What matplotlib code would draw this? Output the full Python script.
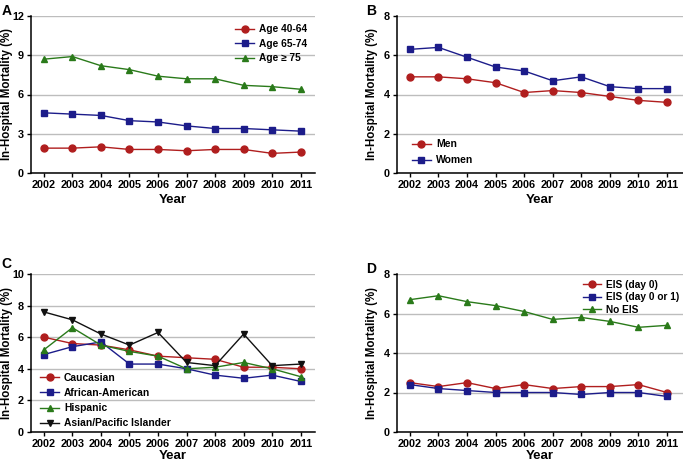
import numpy as np
import matplotlib
matplotlib.use('Agg')
import matplotlib.pyplot as plt

plt.rcParams['font.family'] = ['Liberation Sans', 'DejaVu Sans']
plt.rcParams['font.weight'] = 'bold'

years = list(range(2002, 2012))

# Panel A - theo tuổi
age_40_64 = [1.9, 1.9, 2.0, 1.8, 1.8, 1.7, 1.8, 1.8, 1.5, 1.6]
age_65_74 = [4.6, 4.5, 4.4, 4.0, 3.9, 3.6, 3.4, 3.4, 3.3, 3.2]
age_75 = [8.7, 8.9, 8.2, 7.9, 7.4, 7.2, 7.2, 6.7, 6.6, 6.4]

# Panel B - theo giới
men = [4.9, 4.9, 4.8, 4.6, 4.1, 4.2, 4.1, 3.9, 3.7, 3.6]
women = [6.3, 6.4, 5.9, 5.4, 5.2, 4.7, 4.9, 4.4, 4.3, 4.3]

# Panel C - theo chủng tộc
caucasian = [6.0, 5.6, 5.5, 5.2, 4.8, 4.7, 4.6, 4.1, 4.1, 4.0]
african_american = [4.9, 5.4, 5.7, 4.3, 4.3, 4.0, 3.6, 3.4, 3.6, 3.2]
hispanic = [5.2, 6.6, 5.5, 5.1, 4.8, 4.0, 4.1, 4.4, 4.0, 3.5]
asian = [7.6, 7.1, 6.2, 5.5, 6.3, 4.4, 4.2, 6.2, 4.2, 4.3]

# Panel D - theo EIS
eis_day0 = [2.5, 2.3, 2.5, 2.2, 2.4, 2.2, 2.3, 2.3, 2.4, 2.0]
eis_day01 = [2.4, 2.2, 2.1, 2.0, 2.0, 2.0, 1.9, 2.0, 2.0, 1.8]
no_eis = [6.7, 6.9, 6.6, 6.4, 6.1, 5.7, 5.8, 5.6, 5.3, 5.4]

RED = '#b01e1e'
BLUE = '#1c1c8a'
GREEN = '#2a7a1a'
BLACK = '#111111'

fig = plt.figure(figsize=(6.83, 4.63), dpi=100)

W, H = 683.0, 463.0


def make_ax(x0, y0, x1, y1):
    return fig.add_axes([x0 / W, 1 - y1 / H, (x1 - x0) / W, (y1 - y0) / H])


def style(ax, ymax, step, xmax, ylab_x, xpad=3):
    ax.set_xlim(2001.55, xmax)
    ax.set_ylim(0, ymax)
    ax.set_yticks(np.arange(0, ymax + 0.01, step))
    ax.set_xticks(years)
    ax.yaxis.grid(True, color='#bdbdbd', linewidth=1)
    ax.set_axisbelow(True)
    for s in ['top', 'right']:
        ax.spines[s].set_visible(False)
    for s in ['left', 'bottom']:
        ax.spines[s].set_linewidth(1.1)
    ax.tick_params(direction='out', length=3, width=1, labelsize=7.8, pad=2)
    for lab in ax.get_xticklabels() + ax.get_yticklabels():
        lab.set_fontweight('bold')
    ax.set_xlabel('Year', fontsize=9.5, fontweight='bold', labelpad=xpad)
    ax.set_ylabel('In-Hospital Mortality (%)', fontsize=8.3, fontweight='bold')
    ax.yaxis.set_label_coords(ylab_x, 0.5)


def series(ax, y, color, marker, label):
    ax.plot(years, y, color=color, marker=marker, markersize=5, linewidth=1,
            markerfacecolor=color, markeredgecolor=color, label=label)


leg_kw = dict(frameon=False, handlelength=1.8, handletextpad=0.5)

# A
axA = make_ax(31, 16, 315, 173)
series(axA, age_40_64, RED, 'o', 'Age 40-64')
series(axA, age_65_74, BLUE, 's', 'Age 65-74')
series(axA, age_75, GREEN, '^', 'Age \u2265 75')
style(axA, 12, 3, 2011.5, -0.062)
axA.legend(loc='upper right', bbox_to_anchor=(1.0, 1.0), fontsize=7.3,
           labelspacing=0.45, borderpad=0.3, **leg_kw)

# B
axB = make_ax(397, 16, 683, 173)
series(axB, men, RED, 'o', 'Men')
series(axB, women, BLUE, 's', 'Women')
style(axB, 8, 2, 2011.56, -0.066)
axB.legend(loc='lower left', bbox_to_anchor=(0.02, -0.01), fontsize=7.5,
           labelspacing=0.55, **leg_kw)

# C
axC = make_ax(31, 274, 315, 432)
series(axC, caucasian, RED, 'o', 'Caucasian')
series(axC, african_american, BLUE, 's', 'African-American')
series(axC, hispanic, GREEN, '^', 'Hispanic')
series(axC, asian, BLACK, 'v', 'Asian/Pacific Islander')
style(axC, 10, 2, 2011.5, -0.062, xpad=1)
axC.legend(loc='lower left', bbox_to_anchor=(0.0, -0.035), fontsize=7.4,
           labelspacing=0.5, **leg_kw)

# D
axD = make_ax(397, 274, 683, 432)
series(axD, eis_day0, RED, 'o', 'EIS (day 0)')
series(axD, eis_day01, BLUE, 's', 'EIS (day 0 or 1)')
series(axD, no_eis, GREEN, '^', 'No EIS')
style(axD, 8, 2, 2011.56, -0.066, xpad=1)
axD.legend(loc='upper right', bbox_to_anchor=(1.02, 1.02), fontsize=7.3,
           labelspacing=0.25, **leg_kw)

# nhãn panel
fig.text(2 / W, 1 - 4 / H, 'A', fontsize=10, fontweight='bold', va='top')
fig.text(366 / W, 1 - 4 / H, 'B', fontsize=10, fontweight='bold', va='top')
fig.text(1 / W, 1 - 257 / H, 'C', fontsize=10, fontweight='bold', va='top')
fig.text(366 / W, 1 - 262 / H, 'D', fontsize=10, fontweight='bold', va='top')

fig.savefig('out.png', dpi=100)
